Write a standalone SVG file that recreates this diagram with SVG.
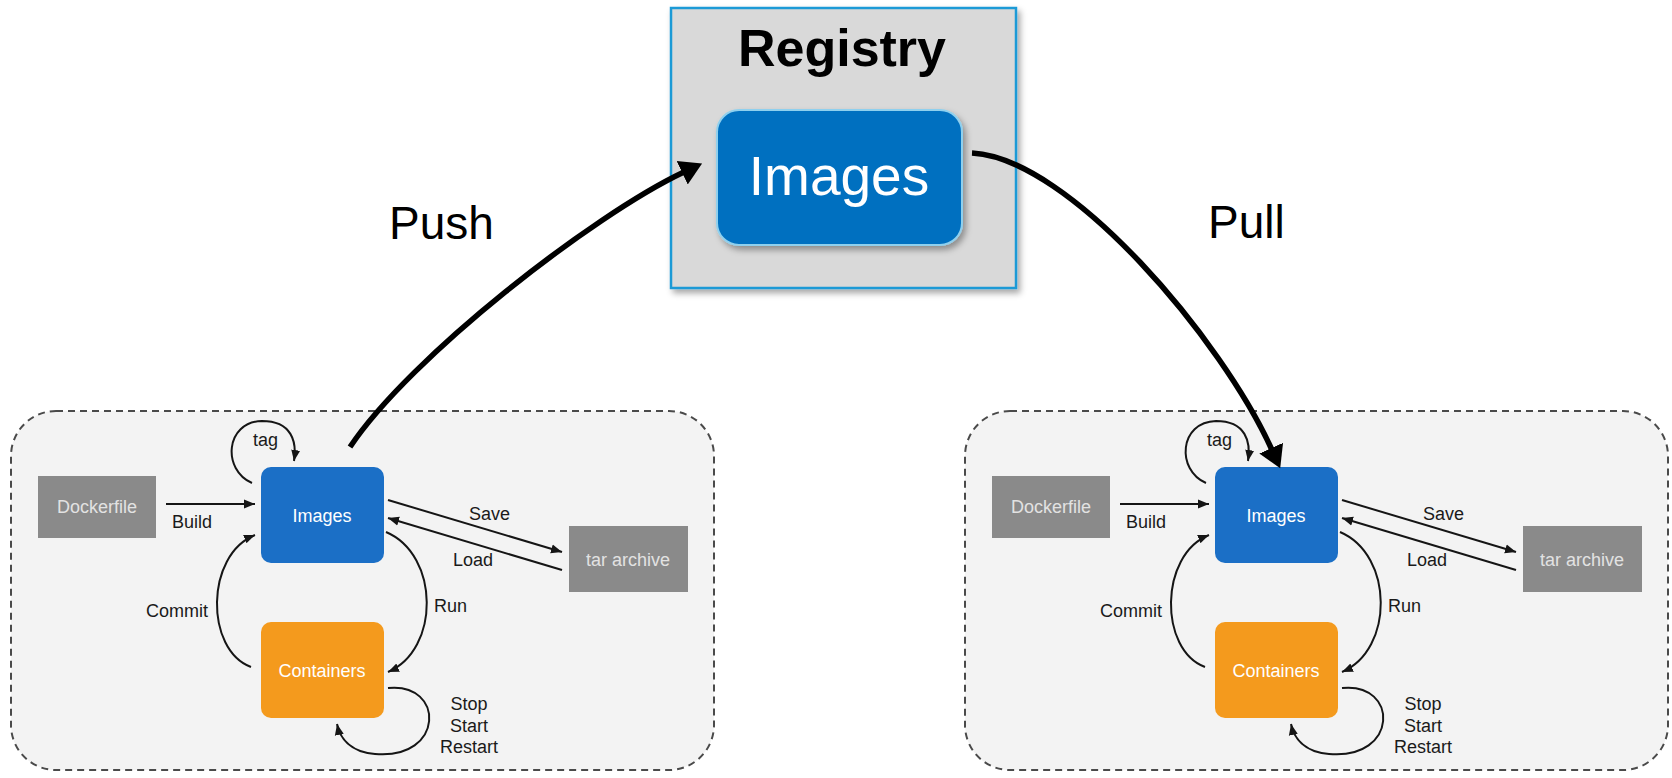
<svg xmlns="http://www.w3.org/2000/svg" width="1672" height="778" viewBox="0 0 1672 778">
<defs>
<style>
.lbl{font-family:"Liberation Sans",Arial,sans-serif;font-size:18px;fill:#1a1a1a}
.boxt{font-family:"Liberation Sans",Arial,sans-serif;font-size:18px;text-anchor:middle}
.big{font-family:"Liberation Sans",Arial,sans-serif;font-size:46px;fill:#000}
.thin{fill:none;stroke:#151515;stroke-width:2}
.thick{fill:none;stroke:#000;stroke-width:5.5}
.panel{fill:#f3f3f3;stroke:#4a4a4a;stroke-width:2;stroke-dasharray:7 5}
</style>
<marker id="sa" markerUnits="userSpaceOnUse" markerWidth="12" markerHeight="12" viewBox="0 0 12 12" refX="11" refY="6" orient="auto">
<path d="M0,1.5 L11,6 L0,10.5 Z" fill="#151515"/>
</marker>
<marker id="ba" markerUnits="userSpaceOnUse" markerWidth="24" markerHeight="30" viewBox="0 0 24 30" refX="2" refY="15" orient="auto">
<path d="M0,2 L22,15 L0,28 Z" fill="#000"/>
</marker>
<filter id="sh" x="-10%" y="-10%" width="130%" height="130%">
<feDropShadow dx="3" dy="4" stdDeviation="3" flood-color="#000" flood-opacity="0.35"/>
</filter>
<g id="panelContent">
<rect class="panel" x="11" y="411" width="703" height="359" rx="45"/>
<g id="dockerfile"><rect x="38" y="476" width="118" height="62" fill="#8a8a8a"/><text class="boxt" x="97" y="513" fill="#e2e2e2">Dockerfile</text></g>
<g id="images"><rect x="261" y="467" width="123" height="96" rx="10" fill="#1b6fc6"/><text class="boxt" x="322" y="522" fill="#ffffff">Images</text></g>
<g id="containers"><rect x="261" y="622" width="123" height="96" rx="10" fill="#f49a1d"/><text class="boxt" x="322" y="677" fill="#ffffff">Containers</text></g>
<g id="tar"><rect x="569" y="526" width="119" height="66" fill="#8a8a8a"/><text class="boxt" x="628" y="566" fill="#e2e2e2">tar archive</text></g>
<g id="smallConnectors">
<path class="thin" d="M166 504 L255 504" marker-end="url(#sa)"/>
<path class="thin" d="M388 500 L562 552" marker-end="url(#sa)"/>
<path class="thin" d="M562 570 L388 518" marker-end="url(#sa)"/>
<path class="thin" d="M386 532 C440 555 440 650 388 672" marker-end="url(#sa)"/>
<path class="thin" d="M251 667 C205 650 205 555 255 535" marker-end="url(#sa)"/>
<path class="thin" d="M252 483 C222 470 225 422 262 421 C292 421 297 442 294 461" marker-end="url(#sa)"/>
<path class="thin" d="M388 688 C445 682 445 760 375 754 C350 752 340 738 337 724" marker-end="url(#sa)"/>
</g>
<text class="lbl" x="172" y="528">Build</text>
<text class="lbl" x="253" y="446">tag</text>
<text class="lbl" x="469" y="520">Save</text>
<text class="lbl" x="453" y="566">Load</text>
<text class="lbl" x="434" y="612">Run</text>
<text class="lbl" x="146" y="617">Commit</text>
<text class="lbl" x="469" y="710" text-anchor="middle">Stop</text>
<text class="lbl" x="469" y="732" text-anchor="middle">Start</text>
<text class="lbl" x="469" y="753" text-anchor="middle">Restart</text>
</g>
</defs>
<rect x="0" y="0" width="1672" height="778" fill="#ffffff"/>
<g id="localHostLeft"><use href="#panelContent"/></g>
<g id="localHostRight" transform="translate(954,0)"><use href="#panelContent"/></g>
<g id="registry">
<rect x="671" y="8" width="345" height="280" fill="#d9d9d9" stroke="#1e9ad6" stroke-width="2.5" filter="url(#sh)"/>
<text x="842" y="66" text-anchor="middle" font-family="Liberation Sans, Arial, sans-serif" font-size="52" font-weight="bold" fill="#000">Registry</text>
</g>
<g id="registryImages">
<rect x="717" y="110" width="245" height="135" rx="22" fill="#0070c0" stroke="#8fd0ee" stroke-width="2" filter="url(#sh)"/>
<text x="839" y="195" text-anchor="middle" font-family="Liberation Sans, Arial, sans-serif" font-size="55" fill="#ffffff">Images</text>
</g>
<g id="connectors">
<path class="thick" d="M350 447 C410 357 593 215 684 172" marker-end="url(#ba)"/>
<path class="thick" d="M972 153 C1070 158 1223 341 1272 450" marker-end="url(#ba)"/>
</g>
<text class="big" x="389" y="239">Push</text>
<text class="big" x="1208" y="238">Pull</text>
</svg>
